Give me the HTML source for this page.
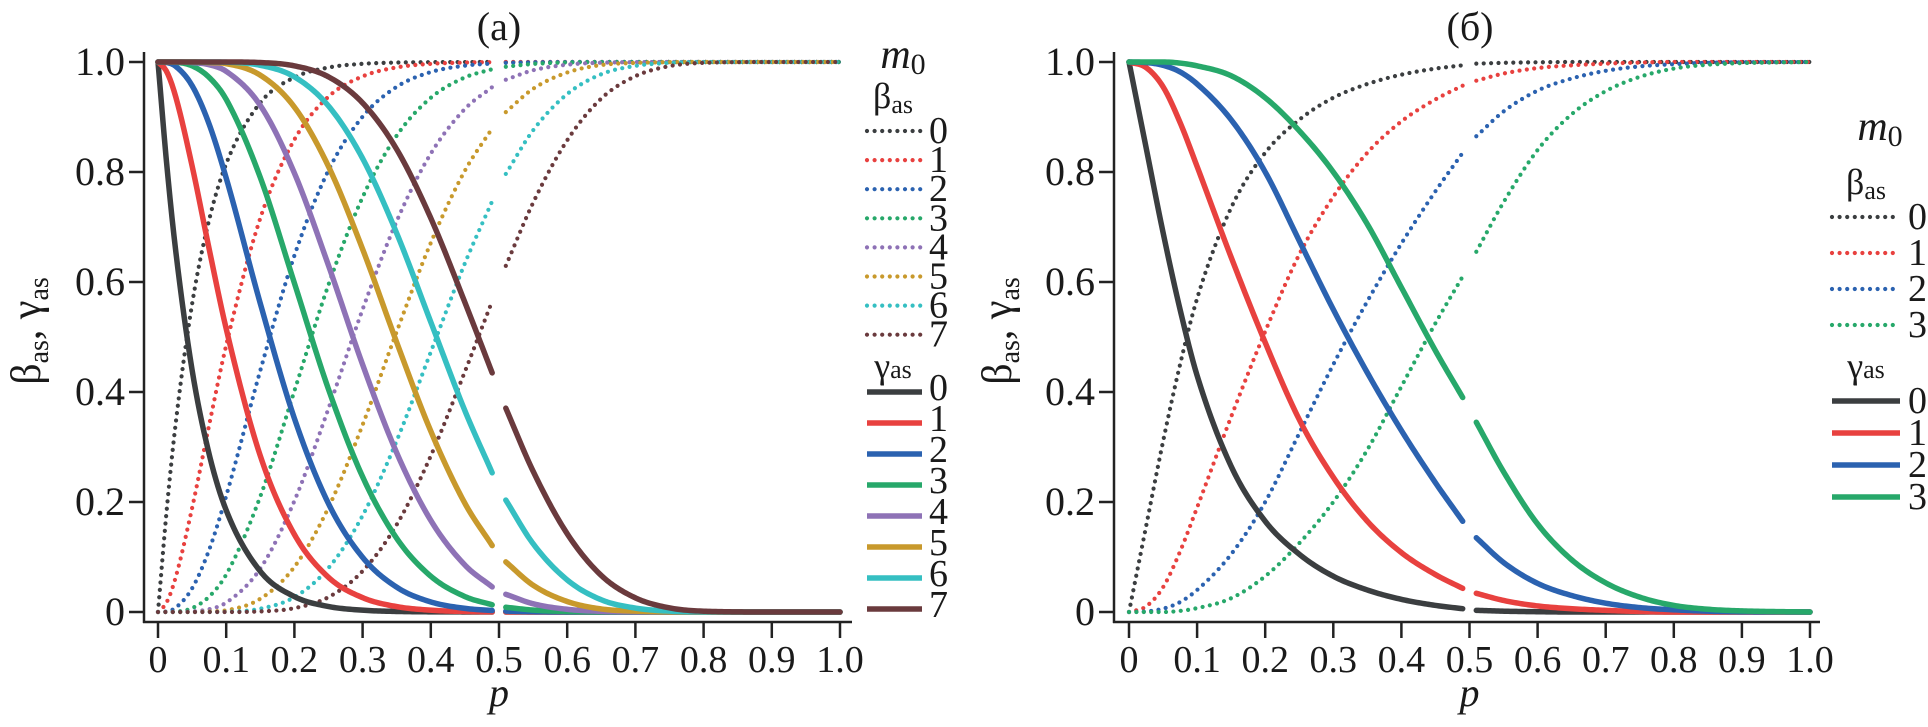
<!DOCTYPE html>
<html>
<head>
<meta charset="utf-8">
<style>
html,body{margin:0;padding:0;background:#fff;}
svg{display:block;font-family:"Liberation Serif","DejaVu Serif",serif;}
svg text{font-family:"Liberation Serif","DejaVu Serif",serif;fill:#1a1a1a;}
</style>
</head>
<body>
<svg id="chart" width="1928" height="727" viewBox="0 0 1928 727" xmlns="http://www.w3.org/2000/svg">
  <g id="panelA"></g>
  <g id="panelB"></g>
</svg>
<script>
// ---- data ----
const xTicks = [0,0.1,0.2,0.3,0.4,0.5,0.6,0.7,0.8,0.9,1.0];
const xTickLabels = ["0","0.1","0.2","0.3","0.4","0.5","0.6","0.7","0.8","0.9","1.0"];
const yTicks = [0,0.2,0.4,0.6,0.8,1.0];
const yTickLabels = ["0","0.2","0.4","0.6","0.8","1.0"];

// panel (a): m0 = 0..7
const pLowA  = [0,0.0125,0.025,0.05,0.075,0.1,0.15,0.2,0.25,0.3,0.35,0.4,0.45,0.49];
const pHighA = [0.51,0.55,0.6,0.65,0.7,0.75,0.8,0.9,1.0];
const gammaA_low = [
  [1,0.818,0.667,0.440,0.287,0.185,0.074,0.028,0.010,0.0033,0.0010,0.0003,0.0001,0.0000],
  [1,0.983,0.941,0.811,0.660,0.515,0.284,0.141,0.063,0.0261,0.0098,0.0033,0.0010,0.0003],
  [1,0.999,0.993,0.957,0.887,0.789,0.561,0.352,0.197,0.0994,0.0451,0.0183,0.0066,0.0027],
  [1,1,0.9996,0.993,0.972,0.932,0.790,0.598,0.405,0.2459,0.1339,0.0651,0.0281,0.0131],
  [1,1,1,0.999,0.995,0.983,0.921,0.798,0.630,0.4499,0.2894,0.1666,0.0853,0.0457],
  [1,1,1,1,0.999,0.997,0.976,0.918,0.810,0.6598,0.4903,0.3288,0.1976,0.1208],
  [1,1,1,1,1,0.9997,0.994,0.973,0.920,0.8247,0.6886,0.5272,0.3660,0.2531],
  [1,1,1,1,1,1,0.999,0.993,0.973,0.9256,0.8412,0.7161,0.5629,0.4347]
];
const gammaA_high = [
  [0,0,0,0,0,0,0,0,0],
  [0.0002,0.0001,0,0,0,0,0,0,0],
  [0.0016,0.0006,0.0001,0,0,0,0,0,0],
  [0.0086,0.0035,0.0009,0.0002,0,0,0,0,0],
  [0.0322,0.0150,0.0049,0.0012,0.0003,0,0,0,0],
  [0.0911,0.0487,0.0191,0.0055,0.0016,0.0003,0,0,0],
  [0.2035,0.1242,0.0583,0.0222,0.0071,0.0016,0.0003,0,0],
  [0.3706,0.2560,0.1423,0.0664,0.0257,0.0075,0.0015,0,0]
];

// panel (б): m0 = 0..3
const pLowB  = [0,0.025,0.05,0.075,0.1,0.15,0.2,0.25,0.3,0.35,0.4,0.45,0.49];
const pHighB = [0.51,0.55,0.6,0.65,0.7,0.75,0.8,0.85,0.9,1.0];
const gammaB_low = [
  [1,0.845,0.69,0.55,0.43,0.265,0.165,0.105,0.065,0.04,0.023,0.012,0.006],
  [1,0.99,0.955,0.89,0.81,0.645,0.49,0.35,0.245,0.165,0.108,0.068,0.043],
  [1,0.999,0.994,0.982,0.96,0.895,0.80,0.675,0.55,0.435,0.33,0.235,0.165],
  [1,1,1,0.998,0.993,0.975,0.935,0.875,0.80,0.705,0.59,0.475,0.39]
];
const gammaB_high = [
  [0.003,0.0015,0.0005,0,0,0,0,0,0,0],
  [0.034,0.021,0.011,0.006,0.003,0.001,0,0,0,0],
  [0.135,0.09,0.052,0.03,0.016,0.008,0.004,0.0015,0.0005,0],
  [0.345,0.255,0.16,0.095,0.053,0.027,0.012,0.005,0.002,0]
];

const colors = ["#3b3e40","#e8413f","#2b62b0","#27a86a","#8e72b6","#c8992c","#35bfc2","#6a3a3d"];
const NS = "http://www.w3.org/2000/svg";

function el(tag, attrs, parent){
  const e = document.createElementNS(NS, tag);
  for (const k in attrs) e.setAttribute(k, attrs[k]);
  parent.appendChild(e);
  return e;
}

function monotone(xs, ys){
  const n = xs.length, d = [], m = new Array(n).fill(0);
  for (let i=0;i<n-1;i++) d.push((ys[i+1]-ys[i])/(xs[i+1]-xs[i]));
  m[0]=d[0]; m[n-1]=d[n-2];
  for (let i=1;i<n-1;i++){
    if (d[i-1]*d[i] <= 0) m[i]=0; else m[i]=(d[i-1]+d[i])/2;
  }
  for (let i=0;i<n-1;i++){
    if (d[i]===0){ m[i]=0; m[i+1]=0; continue; }
    const a=m[i]/d[i], b=m[i+1]/d[i], s=a*a+b*b;
    if (s>9){ const t=3/Math.sqrt(s); m[i]=t*a*d[i]; m[i+1]=t*b*d[i]; }
  }
  return function(x){
    let i=0; while(i<n-2 && x>xs[i+1]) i++;
    const h=xs[i+1]-xs[i], t=(x-xs[i])/h;
    const h00=2*t*t*t-3*t*t+1, h10=t*t*t-2*t*t+t, h01=-2*t*t*t+3*t*t, h11=t*t*t-t*t;
    return h00*ys[i]+h10*h*m[i]+h01*ys[i+1]+h11*h*m[i+1];
  };
}

function pathFor(xs, ys, xf, yf, beta){
  const f = monotone(xs, ys);
  const x0 = xs[0], x1 = xs[xs.length-1];
  const steps = Math.max(20, Math.round((xf(x1)-xf(x0))/2));
  let d = "";
  for (let k=0;k<=steps;k++){
    const p = x0 + (x1-x0)*k/steps;
    let v = Math.min(1, Math.max(0, f(p)));
    if (beta) v = 1 - v;
    d += (k?"L":"M") + xf(p).toFixed(2) + "," + yf(v).toFixed(2);
  }
  return d;
}

function buildPanel(g, cfg){
  const xf = p => cfg.x0 + cfg.xs*p;
  const yf = v => 612 - 550*v;
  const ax = el("g", {}, g);
  
  
  const yl = el("line",{x1:cfg.axX,y1:52,x2:cfg.axX,y2:623,stroke:"#222","stroke-width":2.5},ax);
  
  
  const xl = el("line",{x1:cfg.axX-1,y1:622,x2:cfg.axEnd,y2:622,stroke:"#222","stroke-width":2.5},ax);
  
  
  xTicks.forEach((t,i)=>{
    const tk = el("line",{x1:xf(t),y1:622,x2:xf(t),y2:638,stroke:"#222","stroke-width":2.5},ax);
    
    
    const tl = el("text",{x:xf(t),y:672,"font-size":38,"text-anchor":"middle"},ax);
    tl.textContent = xTickLabels[i];
    
    
  });
  yTicks.forEach((t,i)=>{
    const tk = el("line",{x1:cfg.axX-15,y1:yf(t),x2:cfg.axX,y2:yf(t),stroke:"#222","stroke-width":2.5},ax);
    
    
    const tl = el("text",{x:cfg.axX-19,y:yf(t)+13,"font-size":40,"text-anchor":"end"},ax);
    tl.textContent = yTickLabels[i];
    
    
  });
  const xt = el("text",{x:xf(0.5),y:706,"font-size":40,"font-style":"italic","text-anchor":"middle"},ax);
  xt.textContent = "p";
  
  
  const yt = el("text",{x:0,y:0,"font-size":42,"text-anchor":"middle",transform:"translate("+(cfg.yTitleX)+",331) rotate(-90)"},ax);
  yt.innerHTML = 'β<tspan font-size="28" dy="8">as</tspan><tspan dy="-8">, γ</tspan><tspan font-size="28" dy="8">as</tspan>';
  
  
  const tt = el("text",{x:cfg.titleX,y:40,"font-size":40,"text-anchor":"middle"},ax);
  tt.textContent = cfg.title;
  
  

  const n = cfg.low.length;
  const dots = el("g",{},g);
  
  
  for (let m=0;m<n;m++){
    [[cfg.pLow,cfg.low[m]],[cfg.pHigh,cfg.high[m]]].forEach(seg=>{
      const p = el("path",{d:pathFor(seg[0],seg[1],xf,yf,true),fill:"none",stroke:colors[m],"stroke-width":4.2,"stroke-linecap":"round","stroke-dasharray":"0 7.4"},dots);
      
      
    });
  }
  const sol = el("g",{},g);
  
  
  for (let m=0;m<n;m++){
    [[cfg.pLow,cfg.low[m]],[cfg.pHigh,cfg.high[m]]].forEach(seg=>{
      const p = el("path",{d:pathFor(seg[0],seg[1],xf,yf,false),fill:"none",stroke:colors[m],"stroke-width":5.5,"stroke-linecap":"round","stroke-linejoin":"round"},sol);
      
      
    });
  }

  const lg = el("g",{},g);
  
  
  const L = cfg.leg;
  const mt = el("text",{x:L.mX,y:L.mY,"font-size":42,"font-style":"italic","text-anchor":"middle"},lg);
  mt.innerHTML = 'm<tspan font-size="30" font-style="normal" dy="6">0</tspan>';
  
  
  const bt = el("text",{x:L.hX,y:L.bY,"font-size":36,"text-anchor":"middle"},lg);
  bt.innerHTML = 'β<tspan font-size="26" dy="5">as</tspan>';
  
  
  const gt = el("text",{x:L.hX,y:L.gY,"font-size":36,"text-anchor":"middle"},lg);
  gt.innerHTML = 'γ<tspan font-size="26">as</tspan>';
  
  
  for (let m=0;m<n;m++){
    const y1 = L.b0 + m*L.bStep;
    const ln = el("line",{x1:L.x1,y1:y1,x2:L.x2d,y2:y1,stroke:colors[m],"stroke-width":4.2,"stroke-linecap":"round","stroke-dasharray":"0 7.6"},lg);
    
    
    const tx = el("text",{x:L.tX,y:y1+12,"font-size":38},lg);
    tx.textContent = String(m);
    
    
    const y2 = L.g0 + m*L.gStep;
    const ln2 = el("line",{x1:L.x1,y1:y2,x2:L.x2s,y2:y2,stroke:colors[m],"stroke-width":5.5},lg);
    
    
    const tx2 = el("text",{x:L.tX,y:y2+L.gOff,"font-size":38},lg);
    tx2.textContent = String(m);
    
    
  }
}

buildPanel(document.getElementById("panelA"), {
  x0:158, xs:682, axX:144, axEnd:852, yTitleX:40, titleX:499, title:"(a)",
  pLow:pLowA, pHigh:pHighA, low:gammaA_low, high:gammaA_high,
  leg:{mX:903,mY:68,hX:893,bY:108,gY:378,b0:131,bStep:29.1,g0:392,gStep:31,gOff:8,x1:867,x2d:921,x2s:922,tX:929}
});
buildPanel(document.getElementById("panelB"), {
  x0:1129, xs:681, axX:1114, axEnd:1820, yTitleX:1011, titleX:1470, title:"(б)",
  pLow:pLowB, pHigh:pHighB, low:gammaB_low, high:gammaB_high,
  leg:{mX:1880,mY:140,hX:1866,bY:194,gY:378,b0:217,bStep:36,g0:401,gStep:32,gOff:12,x1:1832,x2d:1894,x2s:1900,tX:1908}
});
</script>
</body>
</html>
